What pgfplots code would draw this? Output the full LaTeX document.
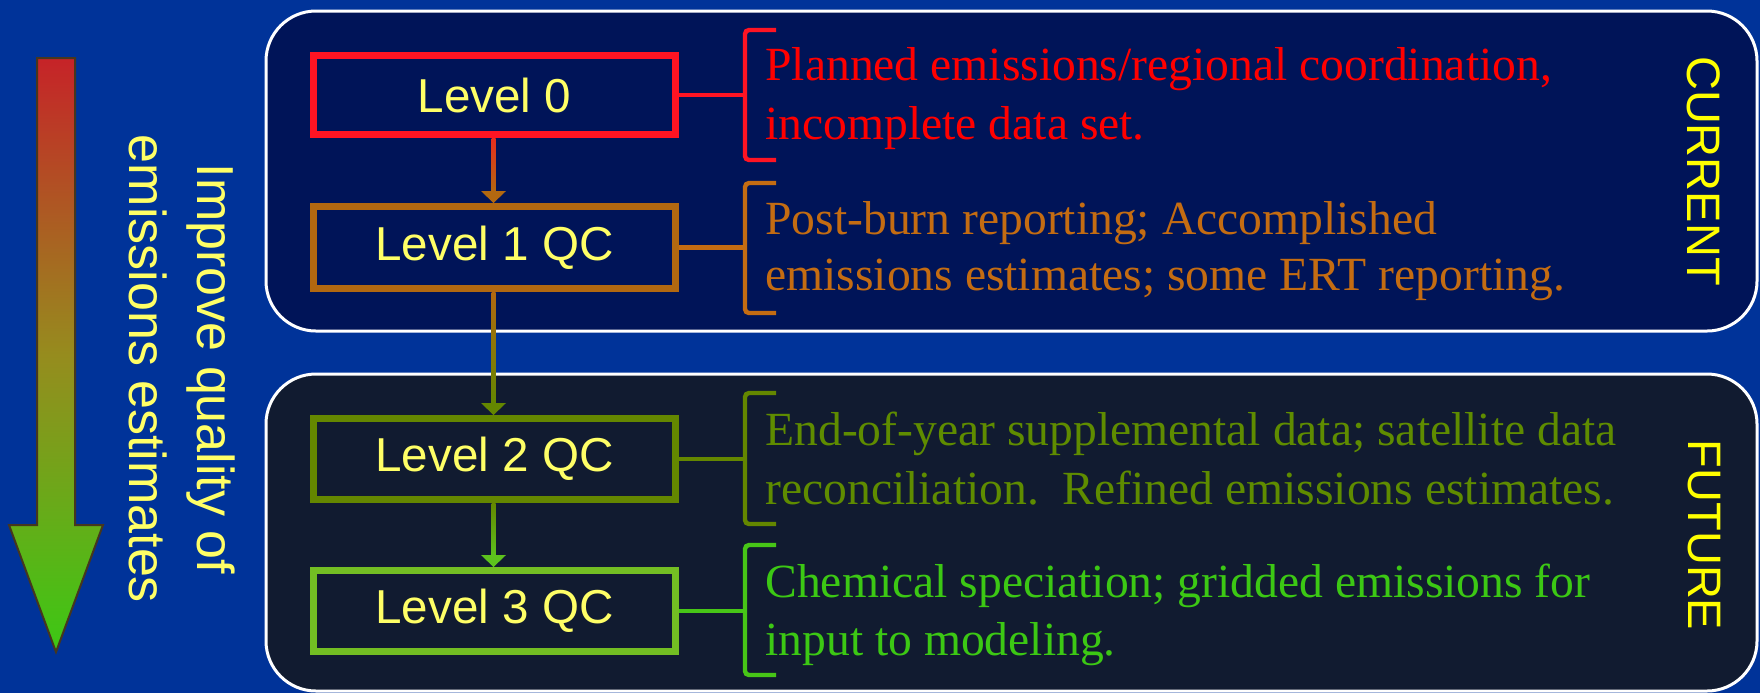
\documentclass[border=0pt]{standalone}
\usepackage{pgfplots}
\pgfplotsset{compat=1.18}
\usepackage{fontspec}
\setmainfont{Liberation Serif}
\newfontfamily\arial{Liberation Sans}
\definecolor{bg}{RGB}{0,51,153}
\definecolor{panelA}{RGB}{0,20,88}
\definecolor{panelB}{RGB}{17,27,48}
\definecolor{lbl}{RGB}{255,255,102}
\definecolor{yel}{RGB}{255,255,0}
\definecolor{cA}{RGB}{255,20,35}
\definecolor{cB}{RGB}{178,104,16}
\definecolor{cC}{RGB}{100,135,0}
\definecolor{cD}{RGB}{115,190,35}
\definecolor{tA}{RGB}{255,0,0}
\definecolor{tB}{RGB}{196,108,18}
\definecolor{tC}{RGB}{95,140,0}
\definecolor{tD}{RGB}{60,200,20}
\definecolor{gTop}{RGB}{198,35,40}
\definecolor{gMid}{RGB}{150,140,30}
\definecolor{gBot}{RGB}{60,200,20}
\begin{document}
\begin{tikzpicture}
\begin{axis}[width=880pt,height=346.5pt,scale only axis,
  xmin=0,xmax=1760,ymin=0,ymax=693,y dir=reverse,axis lines=none,ticks=none]
\addplot[draw=none] coordinates {(0,0) (1760,693)};
% background
\fill[bg] (axis cs:0,0) rectangle (axis cs:1760,693);
% panels
\draw[white,line width=1.5pt,fill=panelA,rounded corners=25pt] (axis cs:266,11) rectangle (axis cs:1757,331);
\draw[white,line width=1.5pt,fill=panelB,rounded corners=25pt] (axis cs:266,374) rectangle (axis cs:1757,691);
% left gradient arrow
\shade[top color=gTop,bottom color=gBot,middle color=gMid]
  (axis cs:37,58) -- (axis cs:75,58) -- (axis cs:75,525) -- (axis cs:103,525) -- (axis cs:56,652) -- (axis cs:9,525) -- (axis cs:37,525) -- cycle;
\draw[draw={rgb,255:red,70;green,55;blue,30},line width=1pt]
  (axis cs:37,58) -- (axis cs:75,58) -- (axis cs:75,525) -- (axis cs:103,525) -- (axis cs:56,652) -- (axis cs:9,525) -- (axis cs:37,525) -- cycle;
\node[rotate=-90,align=center,text=lbl,font=\arial\fontsize{26}{34}\selectfont] at (axis cs:182,369) {Improve quality of\\emissions estimates};
% vertical arrows
\shade[top color=cA!70!cB,bottom color=cB] (axis cs:491.5,138) rectangle (axis cs:495.5,192);
\fill[cB] (axis cs:481,191) -- (axis cs:506,191) -- (axis cs:493.5,203) -- cycle;
\shade[top color=cB,bottom color=cC] (axis cs:491.5,292) rectangle (axis cs:495.5,404);
\fill[cC] (axis cs:481,403) -- (axis cs:506,403) -- (axis cs:493.5,415) -- cycle;
\shade[top color=cC,bottom color=cD!60!tD] (axis cs:491.5,503) rectangle (axis cs:495.5,556);
\fill[cD!60!tD] (axis cs:481,555) -- (axis cs:506,555) -- (axis cs:493.5,567) -- cycle;
% level boxes
\draw[cA,line width=3.8pt] (axis cs:313.5,55.5) rectangle (axis cs:675.5,134.5);
\draw[cB,line width=3.8pt] (axis cs:313.5,206.5) rectangle (axis cs:675.5,288.5);
\draw[cC,line width=3.8pt] (axis cs:313.5,418.5) rectangle (axis cs:675.5,499.5);
\draw[cD,line width=3.8pt] (axis cs:313.5,570.5) rectangle (axis cs:675.5,651.5);
\node[text=lbl,font=\arial\fontsize{23.8}{28}\selectfont] at (axis cs:494.5,95) {Level 0};
\node[text=lbl,font=\arial\fontsize{23.8}{28}\selectfont] at (axis cs:494.5,247.5) {Level 1 QC};
\node[text=lbl,font=\arial\fontsize{23.8}{28}\selectfont] at (axis cs:494.5,459) {Level 2 QC};
\node[text=lbl,font=\arial\fontsize{23.8}{28}\selectfont] at (axis cs:494.5,611) {Level 3 QC};
% connectors and brackets
\draw[cA,line width=2.2pt] (axis cs:679,95) -- (axis cs:745,95);
\draw[cA,line width=2.2pt,rounded corners=2pt] (axis cs:776,30) -- (axis cs:745,30) -- (axis cs:745,160) -- (axis cs:776,160);
\draw[tB,line width=2.2pt] (axis cs:679,247.5) -- (axis cs:745,247.5);
\draw[tB,line width=2.2pt,rounded corners=2pt] (axis cs:776,183) -- (axis cs:745,183) -- (axis cs:745,313) -- (axis cs:776,313);
\draw[cC,line width=2.2pt] (axis cs:679,459) -- (axis cs:745,459);
\draw[cC,line width=2.2pt,rounded corners=2pt] (axis cs:776,393) -- (axis cs:745,393) -- (axis cs:745,524) -- (axis cs:776,524);
\draw[tD!80!cD,line width=2.2pt] (axis cs:679,611) -- (axis cs:745,611);
\draw[tD!80!cD,line width=2.2pt,rounded corners=2pt] (axis cs:776,545) -- (axis cs:745,545) -- (axis cs:745,675) -- (axis cs:776,675);
% descriptions
\tikzset{desc/.style={anchor=base west,inner sep=0pt,font=\fontsize{23.8}{29.5}\selectfont}}
\node[desc,text=tA] at (axis cs:765,80) {Planned emissions/regional coordination,};
\node[desc,text=tA] at (axis cs:765,139) {incomplete data set.};
\node[desc,text=tB] at (axis cs:765,234) {Post-burn reporting; Accomplished};
\node[desc,text=tB] at (axis cs:765,290) {emissions estimates; some ERT reporting.};
\node[desc,text=tC] at (axis cs:765,445) {End-of-year supplemental data; satellite data};
\node[desc,text=tC] at (axis cs:765,504) {reconciliation.\ \ Refined emissions estimates.};
\node[desc,text=tD] at (axis cs:765,597) {Chemical speciation; gridded emissions for};
\node[desc,text=tD] at (axis cs:765,655) {input to modeling.};
% side labels
\node[rotate=-90,text=yel,font=\arial\fontsize{23.5}{28}\selectfont] at (axis cs:1704,171) {CURRENT};
\node[rotate=-90,text=yel,font=\arial\fontsize{23.5}{28}\selectfont] at (axis cs:1704,535) {FUTURE};
\end{axis}
\end{tikzpicture}
\end{document}
